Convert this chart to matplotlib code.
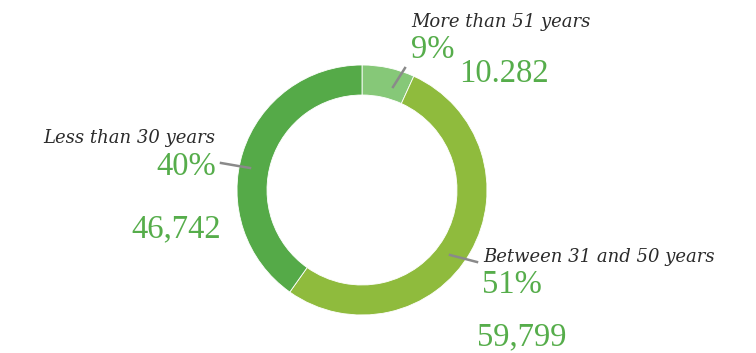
import matplotlib.pyplot as plt

# Data
labels = ["More than 51 years", "Between 31 and 50 years", "Less than 30 years"]
percent_labels = ["9%", "51%", "40%"]
count_labels = ["10.282", "59,799", "46,742"]
# share of the ring each slice takes in the picture (degrees / 360)
slice_shares = [6.8, 53.0, 40.2]
colors = ["#86c878", "#8fbb3d", "#55aa48"]

green = "#56ad4b"
dark = "#2b2b2b"
grey = "#8a8a8a"

W, H = 756, 353
fig = plt.figure(figsize=(W / 100, H / 100), dpi=100)
ax = fig.add_axes([0, 0, 1, 1])

cx, cy, r = 362, H - 190, 125
ax.pie(slice_shares, colors=colors, startangle=90, counterclock=False,
       center=(cx, cy), radius=r, frame=True,
       wedgeprops=dict(width=30, edgecolor="white", linewidth=0.6))
ax.set_xlim(0, W)
ax.set_ylim(0, H)
ax.axis("off")

lab_font = dict(family="DejaVu Serif", style="italic", fontsize=13, color=dark)
num_font = dict(family="Liberation Serif", fontsize=23.5, color=green)

def y(p):
    return H - p

# More than 51 years
ax.text(411, y(27), labels[0], ha="left", va="baseline", **lab_font)
ax.text(411, y(58), percent_labels[0], ha="left", va="baseline", **num_font)
ax.text(459, y(82), count_labels[0], ha="left", va="baseline", **num_font)
ax.plot([393, 405], [y(87), y(68)], color=grey, lw=1.8)

# Less than 30 years
ax.text(215, y(143), labels[2], ha="right", va="baseline", **lab_font)
ax.text(216, y(175), percent_labels[2], ha="right", va="baseline", **num_font)
ax.text(221, y(237), count_labels[2], ha="right", va="baseline", **num_font)
ax.plot([221, 250], [y(163), y(168)], color=grey, lw=1.8)

# Between 31 and 50 years
ax.text(483, y(262), labels[1], ha="left", va="baseline", **lab_font)
ax.text(482, y(293), percent_labels[1], ha="left", va="baseline", **num_font)
ax.text(477, y(345), count_labels[1], ha="left", va="baseline", **num_font)
ax.plot([450, 477], [y(255), y(262)], color=grey, lw=1.8)

fig.savefig("out.png", dpi=100, facecolor="white")
